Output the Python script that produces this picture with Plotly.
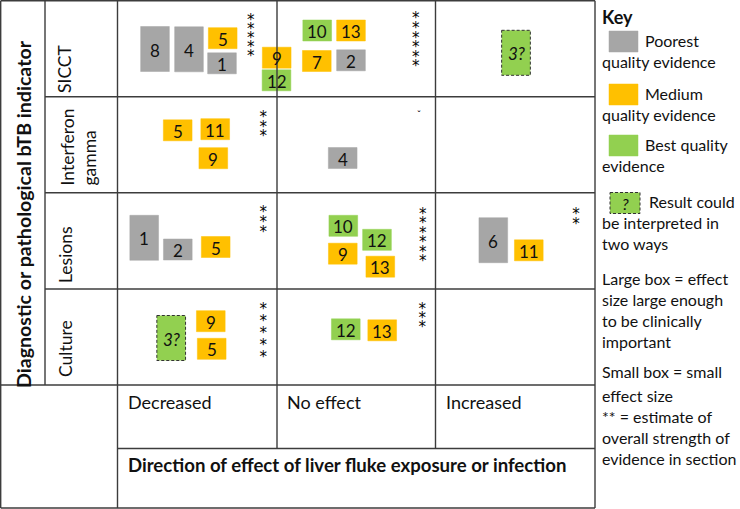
import plotly.graph_objects as go

# ---------------- data ----------------
rows = ["SICCT", "Interferon<br>gamma", "Lesions", "Culture"]
cols = ["Decreased", "No effect", "Increased"]
y_title = "Diagnostic or pathological bTB indicator"
x_title = "Direction of effect of liver fluke exposure or infection"

# evidence boxes: study number, row, column, quality, effect size, ambiguous result
box_label = ["8", "4", "5", "1", "9", "12",
             "10", "13", "7", "2", "3?",
             "5", "11", "9", "4",
             "1", "2", "5", "10", "12", "9", "13", "6", "11",
             "3?", "9", "5", "12", "13"]
box_row = [0, 0, 0, 0, 0, 0,
           0, 0, 0, 0, 0,
           1, 1, 1, 1,
           2, 2, 2, 2, 2, 2, 2, 2, 2,
           3, 3, 3, 3, 3]
box_col = [0, 0, 0, 0, 1, 1,
           1, 1, 1, 1, 2,
           0, 0, 0, 1,
           0, 0, 0, 1, 1, 1, 1, 2, 2,
           0, 0, 0, 1, 1]
box_quality = ["poor", "poor", "medium", "poor", "medium", "best",
               "best", "medium", "medium", "poor", "best",
               "medium", "medium", "medium", "poor",
               "poor", "poor", "medium", "best", "best", "medium", "medium", "poor", "medium",
               "best", "medium", "medium", "best", "medium"]
box_large = [True, True, False, False, False, False,
             False, False, False, False, True,
             False, False, False, False,
             True, False, False, False, False, False, False, True, False,
             True, False, False, False, False]

# strength of evidence (number of stars) per section
star_row = [0, 0, 1, 2, 2, 2, 3, 3]
star_col = [0, 1, 0, 0, 1, 2, 0, 1]
star_count = [5, 6, 3, 3, 6, 2, 5, 3]

key_items = ["Poorest", "Medium", "Best quality"]
key_second = ["quality evidence", "quality evidence", "evidence"]
key_notes = [["Large box = effect", "size large enough", "to be clinically", "important"],
             ["Small box = small", "effect size"],
             ["** = estimate of", "overall strength of", "evidence in section"]]

# ---------------- layout / styles ----------------
FONT = "Lato"
TXT = "#111111"
LINE = "#3c3c3c"
fill = {"poor": "#A6A6A6", "medium": "#FFC000", "best": "#92D050"}
BW, BH_S, BH_L = 28.7, 21.0, 45.0
KEY_SIZE = 16
KEY_SHIFT = -1.5

col_edges = [117.5, 277.0, 435.5, 595.0]
row_edges = [0.7, 96.7, 192.7, 289.0, 385.0]

# box centres relative to the top-left corner of their cell
box_dx = [37.5, 71.5, 105.2, 104.5, -0.3, -0.5,
          40.2, 74.0, 39.8, 74.0, 80.5,
          60.2, 97.7, 95.8, 65.7,
          26.7, 60.3, 98.2, 66.3, 100.0, 65.8, 103.3, 57.8, 93.3,
          53.7, 93.3, 94.2, 68.8, 105.2]
box_dy = [48.3, 48.6, 37.5, 62.6, 57.0, 79.6,
          29.8, 29.8, 60.3, 59.6, 52.1,
          33.6, 32.5, 61.5, 61.3,
          45.1, 56.8, 54.3, 33.1, 47.1, 61.0, 74.0, 47.5, 57.6,
          49.0, 32.2, 59.8, 40.3, 41.3]
star_dx = [133.2, 138.7, 145.8, 145.8, 145.7, 140.5, 145.8, 145.3]
star_dy = [16.3, 15.0, 18.0, 17.0, 18.3, 18.3, 17.0, 17.0]
star_gap = [9.0, 9.6, 9.5, 10.0, 9.5, 10.0, 12.0, 9.0]

fig = go.Figure()
shapes = []
annotations = []


def hline(y, x0, x1):
    shapes.append(dict(type="line", xref="x", yref="y", x0=x0, x1=x1, y0=y, y1=y,
                       line=dict(color=LINE, width=1.4)))


def vline(x, y0, y1):
    shapes.append(dict(type="line", xref="x", yref="y", x0=x, x1=x, y0=y0, y1=y1,
                       line=dict(color=LINE, width=1.4)))


def text(x, y, s, size=16, anchor="left", bold=False, angle=0, align="left", color=TXT, family=FONT):
    annotations.append(dict(x=x, y=y, xref="x", yref="y", text=("<b>%s</b>" % s) if bold else s,
                            showarrow=False, xanchor=anchor, yanchor="middle", textangle=angle,
                            align=align, borderpad=0,
                            font=dict(family=family, size=size, color=color)))


# grid
X0, XR, YB, YH = 0.7, col_edges[-1], 508.0, 448.5
hline(X0, X0, XR)
hline(YB, X0, XR)
vline(X0, X0, YB)
vline(XR, X0, YB)
vline(45.0, X0, row_edges[-1])
vline(col_edges[0], X0, YB)
for xe in col_edges[1:-1]:
    vline(xe, X0, YH)
for ye in row_edges[1:-1]:
    hline(ye, 45.0, XR)
hline(row_edges[-1], X0, XR)
hline(YH, col_edges[0], XR)

# row / column labels
text(23, 214, y_title, size=19.6, anchor="center", bold=True, angle=-90)
row_label_x = [64, 78.5, 65, 65]
row_label_y = [69, 147, 255, 349]
for i, r in enumerate(rows):
    text(row_label_x[i], row_label_y[i], r, size=17.5, anchor="center", angle=-90, align="left")
for j, c in enumerate(cols):
    text(col_edges[j] + 9, 402, c, size=18)
text(col_edges[0] + 9, 465, x_title, size=18.6, bold=True)

# boxes
for i, lab in enumerate(box_label):
    cx = col_edges[box_col[i]] + box_dx[i]
    cy = row_edges[box_row[i]] + box_dy[i]
    h = BH_L if box_large[i] else BH_S
    dashed = "?" in lab
    shapes.append(dict(type="rect", xref="x", yref="y", x0=cx - BW / 2, x1=cx + BW / 2,
                       y0=cy - h / 2, y1=cy + h / 2, fillcolor=fill[box_quality[i]],
                       line=dict(color="#333333" if dashed else fill[box_quality[i]],
                                 width=1 if dashed else 0.5, dash="3px,2px" if dashed else "solid"),
                       layer="below"))
    text(cx, cy + 1, ("<i>%s</i>" % lab) if dashed else lab, size=17, anchor="center")

# stars
sx, sy = [], []
for k, n in enumerate(star_count):
    for s in range(n):
        sx.append(col_edges[star_col[k]] + star_dx[k])
        sy.append(row_edges[star_row[k]] + star_dy[k] + s * star_gap[k] + 4)
fig.add_trace(go.Scatter(x=sx, y=sy, mode="text", text=["*"] * len(sx), hoverinfo="skip",
                         textfont=dict(family="DejaVu Sans", size=15, color="#000000"),
                         showlegend=False))
text(418.7, 114, "ˇ", size=10, anchor="center")

# key
text(601, 17, "Key", size=18, bold=True)
sw_y = [41.5, 94.5, 145.5]
for i, q in enumerate(["poor", "medium", "best"]):
    shapes.append(dict(type="rect", xref="x", yref="y", x0=609, x1=638, y0=sw_y[i] - 10.5,
                       y1=sw_y[i] + 10.5, fillcolor=fill[q], line=dict(color=fill[q], width=0.5)))
    text(644, sw_y[i] + 0.5 + KEY_SHIFT, key_items[i], size=KEY_SIZE)
    text(601, sw_y[i] + 21.5 + KEY_SHIFT, key_second[i], size=KEY_SIZE)
shapes.append(dict(type="rect", xref="x", yref="y", x0=610, x1=640, y0=192.5, y1=213.5,
                   fillcolor=fill["best"], line=dict(color="#333333", width=1, dash="3px,2px")))
text(625, 203, "<i>?</i>", size=KEY_SIZE, anchor="center")
text(648, 203 + KEY_SHIFT, "Result could", size=KEY_SIZE)
text(601, 224 + KEY_SHIFT, "be interpreted in", size=KEY_SIZE)
text(601, 245 + KEY_SHIFT, "two ways", size=KEY_SIZE)
note_y = [[280, 301, 322, 343], [373, 397], [418, 439, 460]]
for g, lines in enumerate(key_notes):
    for k, ln in enumerate(lines):
        text(601, note_y[g][k] + KEY_SHIFT, ln, size=KEY_SIZE)

fig.update_layout(
    width=740, height=509, margin=dict(l=0, r=0, t=0, b=0),
    paper_bgcolor="white", plot_bgcolor="white",
    xaxis=dict(range=[0, 740], visible=False, fixedrange=True),
    yaxis=dict(range=[509, 0], visible=False, fixedrange=True),
    shapes=shapes, annotations=annotations, showlegend=False,
)
fig.write_html("out.html", config={"displayModeBar": False},
               post_script="document.body.style.margin='0px';")
